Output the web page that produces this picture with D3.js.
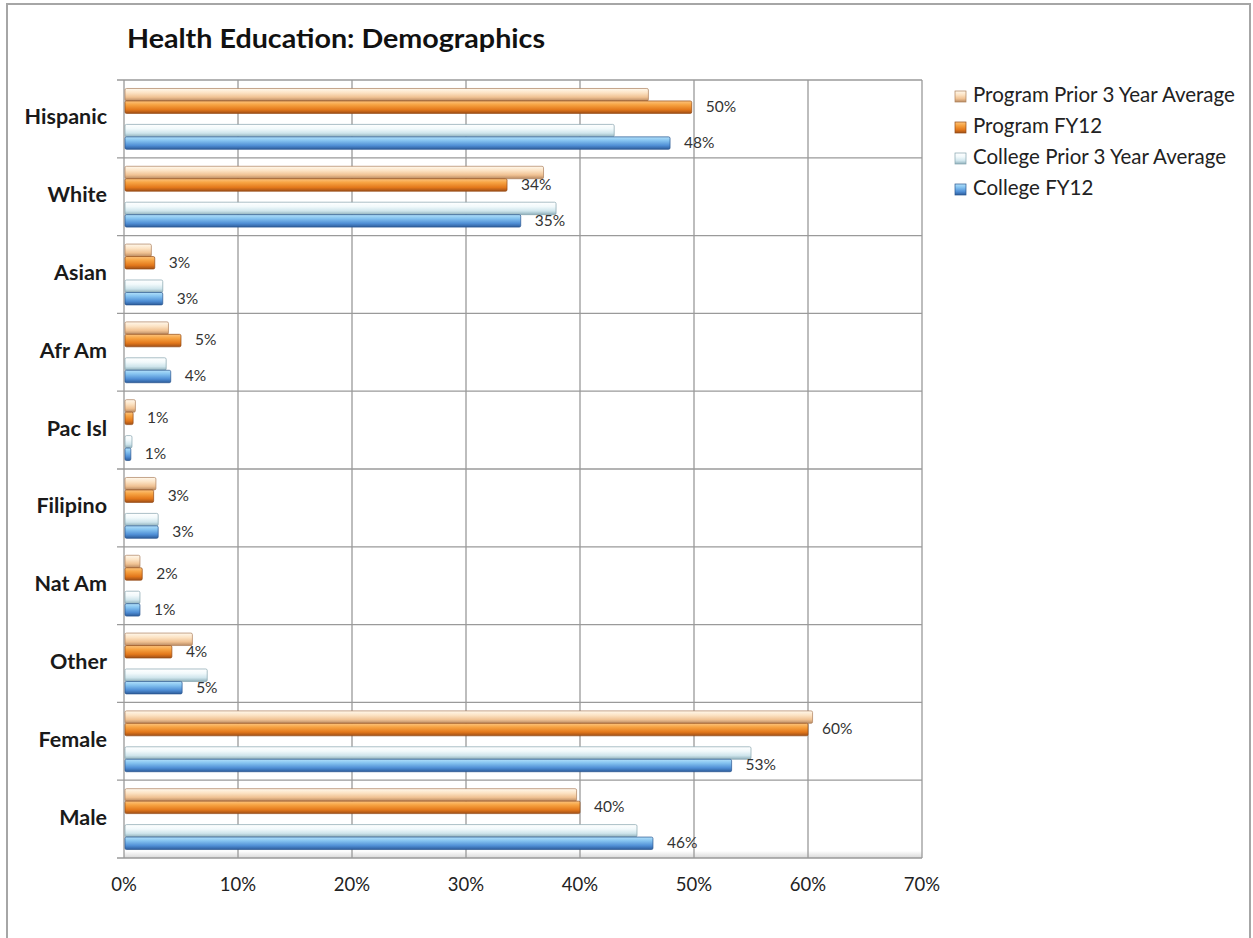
<!DOCTYPE html>
<html><head><meta charset="utf-8">
<script src="https://cdn.jsdelivr.net/npm/d3@7"></script>
<style>html,body{margin:0;padding:0;background:#fff;}svg{display:block;}</style>
</head><body>
<svg id="chart" width="1253" height="938"></svg>
<script>
const categories = ["Hispanic","White","Asian","Afr Am","Pac Isl","Filipino","Nat Am","Other","Female","Male"];
const seriesNames = ["Program Prior 3 Year Average","Program FY12","College Prior 3 Year Average","College FY12"];
const programPrior = [46.0, 36.8, 2.4, 3.9, 1.0, 2.8, 1.4, 6.0, 60.4, 39.7];
const programFY12  = [49.8, 33.6, 2.7, 5.0, 0.8, 2.6, 1.6, 4.2, 60.0, 40.0];
const collegePrior = [43.0, 37.9, 3.4, 3.7, 0.7, 3.0, 1.4, 7.3, 55.0, 45.0];
const collegeFY12  = [47.9, 34.8, 3.4, 4.1, 0.6, 3.0, 1.4, 5.1, 53.3, 46.4];
const xTicks = [0,10,20,30,40,50,60,70];
const title = "Health Education: Demographics";

(function(){
const seriesValues = [programPrior, programFY12, collegePrior, collegeFY12];
const seriesGroup = ["Program","Program","College","College"];
const seriesKind = ["Prior","FY12","Prior","FY12"];
const labelled = [false,true,false,true];

const svg = d3.select("#chart");
const font = "Lato, 'Open Sans', Arial, sans-serif";

const defs = svg.append("defs");
const grads = [
  [[0,"#fff8ec"],[0.35,"#fce3c4"],[0.7,"#f0c293"],[1,"#b98a62"]],
  [[0,"#fcc47e"],[0.3,"#f7a443"],[0.7,"#e3781b"],[1,"#9f4f17"]],
  [[0,"#ffffff"],[0.35,"#f1f9fb"],[0.7,"#cfe5ec"],[1,"#8fb0bb"]],
  [[0,"#b2e0fa"],[0.3,"#85c3f0"],[0.7,"#4f8ed5"],[1,"#2d5c9a"]]
];
grads.forEach((g,i)=>{
  const lgr = defs.append("linearGradient").attr("id","g"+i).attr("x1",0).attr("y1",0).attr("x2",0).attr("y2",1);
  g.forEach(s=>lgr.append("stop").attr("offset",s[0]).attr("stop-color",s[1]));
});
const floorG = defs.append("linearGradient").attr("id","floor").attr("x1",0).attr("y1",0).attr("x2",0).attr("y2",1);
floorG.append("stop").attr("offset",0).attr("stop-color","#ffffff");
floorG.append("stop").attr("offset",1).attr("stop-color","#d8d8d8");

svg.append("rect").attr("x",7).attr("y",4).attr("width",1243).attr("height",945)
  .attr("fill","none").attr("stroke","#a6a6a6").attr("stroke-width",2);

const pL = 124, pR = 922, pT = 80, pB = 858;
const x = d3.scaleLinear().domain([0,70]).range([pL,pR]);
const y = d3.scaleBand().domain(categories).range([pT,pB]).padding(0);
const yPair = d3.scaleBand().domain(["Program","College"]).range([0,y.bandwidth()]).paddingInner(0.306).paddingOuter(0.236);
const yKind = d3.scaleBand().domain(["Prior","FY12"]).range([0,yPair.bandwidth()]).padding(0);

svg.append("rect").attr("x",pL).attr("y",pB-7).attr("width",pR-pL).attr("height",7).attr("fill","url(#floor)");

svg.append("g").selectAll("line").data(xTicks).join("line")
  .attr("x1",d=>x(d)).attr("x2",d=>x(d)).attr("y1",pT).attr("y2",pB)
  .attr("stroke","#9a9a9a").attr("stroke-width",1.3);
const hLines = categories.map(c=>y(c)).concat([pB]);
svg.append("g").selectAll("line").data(hLines).join("line")
  .attr("x1",pL-7).attr("x2",pR).attr("y1",d=>d).attr("y2",d=>d)
  .attr("stroke","#9a9a9a").attr("stroke-width",1.3);

const barsG = svg.append("g");
seriesValues.forEach((vals,si)=>{
  const g = barsG.append("g");
  g.selectAll("rect").data(vals.map((v,i)=>({v,c:categories[i]}))).join("rect")
    .attr("x",x(0)+1)
    .attr("y",d=>y(d.c)+yPair(seriesGroup[si])+yKind(seriesKind[si]))
    .attr("width",d=>Math.max(0,x(d.v)-x(0)-1))
    .attr("height",yKind.bandwidth())
    .attr("rx",1.5)
    .attr("fill","url(#g"+si+")")
    .attr("stroke",d3.color(grads[si][3][1]).darker(0.2))
    .attr("stroke-width",0.7);
  if(labelled[si]){
    svg.append("g").selectAll("text").data(vals.map((v,i)=>({v,c:categories[i]}))).join("text")
      .attr("x",d=>x(d.v)+14)
      .attr("y",d=>y(d.c)+yPair(seriesGroup[si])+yKind(seriesKind[si])+yKind.bandwidth()/2+1)
      .attr("dominant-baseline","middle")
      .attr("font-family",font).attr("font-size",15.5).attr("fill","#333")
      .text(d=>Math.round(d.v)+"%");
  }
});

svg.append("g").selectAll("text").data(categories).join("text")
  .attr("x",107).attr("y",d=>y(d)+y.bandwidth()/2)
  .attr("text-anchor","end").attr("dominant-baseline","middle")
  .attr("font-family",font).attr("font-weight","bold").attr("font-size",21.5).attr("fill","#1a1a1a")
  .text(d=>d);

svg.append("g").selectAll("text").data(xTicks).join("text")
  .attr("x",d=>x(d)).attr("y",886)
  .attr("text-anchor","middle").attr("dominant-baseline","middle")
  .attr("font-family",font).attr("font-size",18.5).attr("fill","#222")
  .text(d=>d+"%");

svg.append("text").attr("x",127).attr("y",48)
  .attr("font-family",font).attr("font-weight","bold").attr("font-size",26.5)
  .attr("textLength",418).attr("lengthAdjust","spacingAndGlyphs").attr("fill","#111")
  .text(title);

const lg = svg.append("g");
seriesNames.forEach((n,i)=>{
  const ly = 96 + i*31;
  lg.append("rect").attr("x",955).attr("y",ly-5).attr("width",11).attr("height",11)
    .attr("fill","url(#g"+i+")").attr("stroke",d3.color(grads[i][3][1]).darker(0.2)).attr("stroke-width",0.7);
  lg.append("text").attr("x",973).attr("y",ly+1).attr("dominant-baseline","middle")
    .attr("font-family",font).attr("font-size",20.5).attr("fill","#222").text(n);
});
})();
</script>
</body></html>
